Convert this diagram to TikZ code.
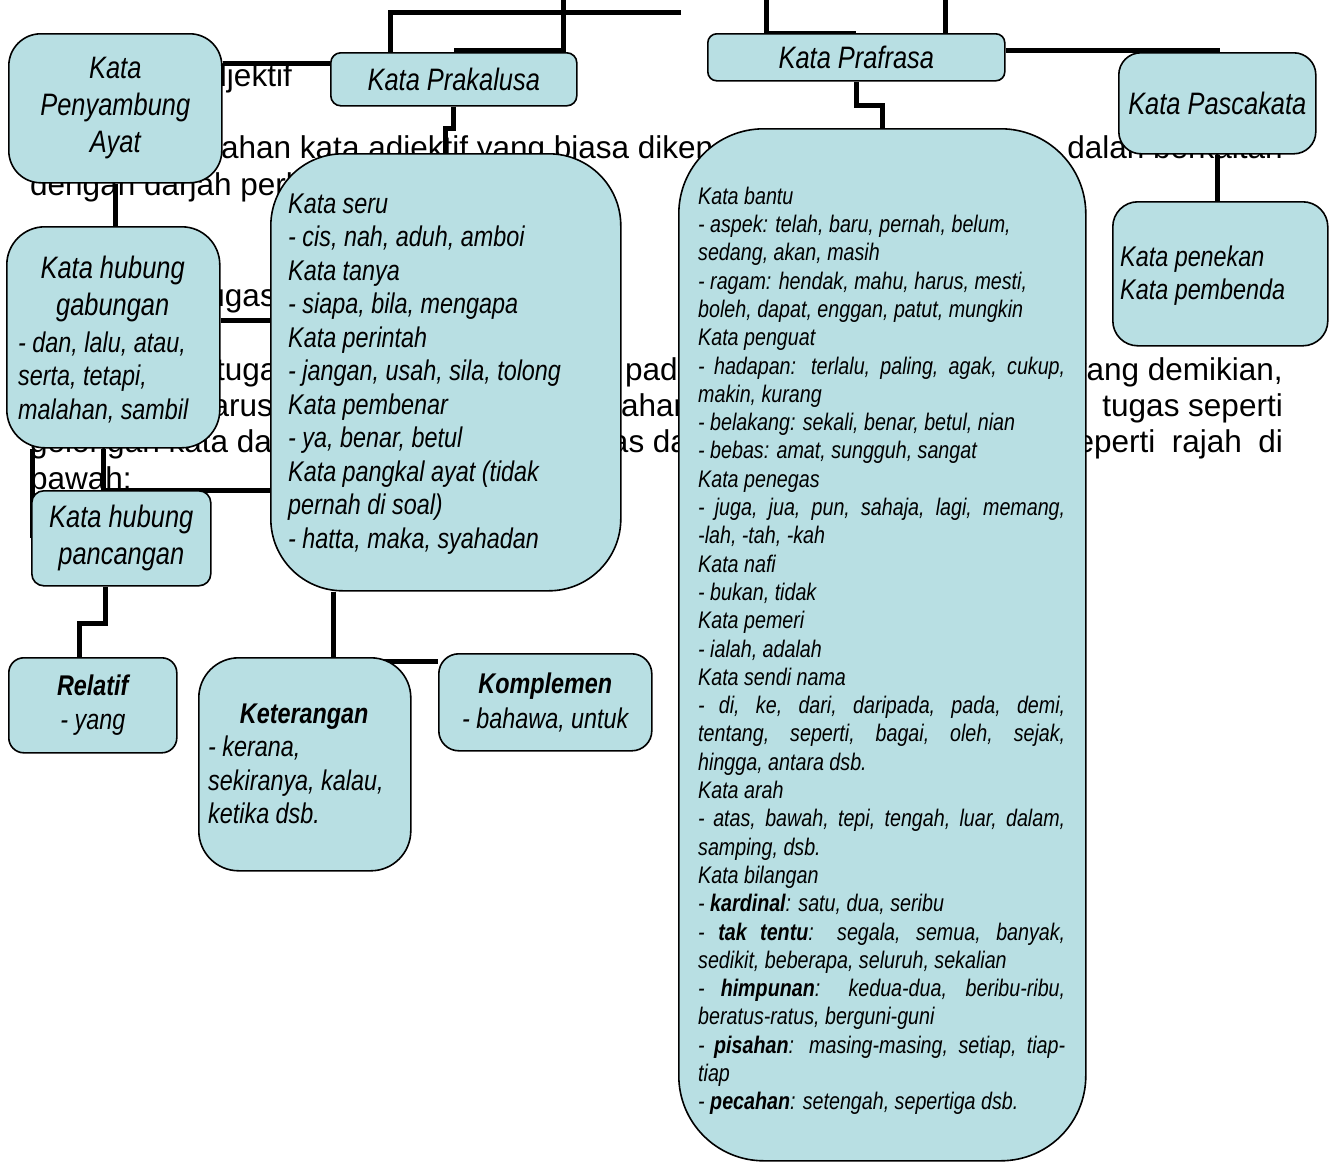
\documentclass[tikz,border=0pt]{standalone}
\usepackage{fontspec}
\setmainfont{Liberation Sans}
\newfontfamily\nfont[FakeStretch=0.82]{Liberation Sans}
\newcommand\fHead{\nfont\itshape\fontsize{31}{37}\selectfont}
\newcommand\fBody{\nfont\itshape\fontsize{28.5}{33.5}\selectfont}
\newcommand\fSmall{\nfont\itshape\fontsize{24}{28.3}\selectfont}
\newcommand\fBg{\fontsize{31.5}{36}\selectfont}
\newcommand\jl[1]{\makebox[367pt][s]{#1}}
\definecolor{boxfill}{HTML}{B8DFE3}
\pgfdeclarelayer{bgl}
\pgfsetlayers{bgl,main}
\tikzset{
  box/.style={draw=black, line width=1.6pt, fill=boxfill, inner sep=0pt, anchor=north west},
  conn/.style={line width=5pt, draw=black},
  bg/.style={font=\fBg, inner sep=0pt},
  txt/.style={inner sep=0pt, anchor=north west, align=left},
}
\begin{document}
\begin{tikzpicture}[x=1pt,y=-1pt]
\useasboundingbox (0,0) rectangle (1334,1162);
% ---------- boxes ----------
\node[box, minimum width=213pt, minimum height=149pt, rounded corners=32pt, font=\fHead, align=center] (peny) at (8,33) {Kata\\Penyambung\\Ayat};
\node[box, minimum width=246pt, minimum height=53pt, rounded corners=10pt, font=\fHead] (prak) at (330,52) {Kata Prakalusa};
\node[box, minimum width=297pt, minimum height=47pt, rounded corners=9pt, font=\fHead] (praf) at (707,33) {Kata Prafrasa};
\node[box, minimum width=197pt, minimum height=101pt, rounded corners=22pt, font=\fHead] (pasc) at (1118,52) {Kata Pascakata};
\node[box, minimum width=215pt, minimum height=144pt, rounded corners=25pt] (pen) at (1112,201) {};
\node[box, minimum width=213pt, minimum height=221pt, rounded corners=38pt] (gab) at (6,226) {};
\node[box, minimum width=350pt, minimum height=437pt, rounded corners=72pt] (bigL) at (270,153) {};
\node[box, minimum width=179pt, minimum height=95pt, rounded corners=12pt, font=\fHead, align=center] (panc) at (31,490) {Kata hubung\\pancangan};
\node[box, minimum width=168pt, minimum height=95pt, rounded corners=15pt, font=\fBody, align=center] (rel) at (8,657) {{\bfseries Relatif}\\- yang};
\node[box, minimum width=212pt, minimum height=213pt, rounded corners=40pt] (ket) at (198,657) {};
\node[box, minimum width=213pt, minimum height=97pt, rounded corners=20pt, font=\fBody, align=center] (komp) at (438,653) {{\bfseries Komplemen}\\[1pt]- bahawa, untuk};
\node[box, minimum width=407pt, minimum height=1032pt, rounded corners=85pt] (bigR) at (678,128) {};
% ---------- box texts ----------
\node[txt, font=\fBody] (tpen) at (1120,241) {\rule{0pt}{25pt}Kata penekan\\Kata pembenda};
\node[txt, font=\fBody] (tgab) at (18,253) {\rule{0pt}{25pt}\makebox[189pt][c]{\fHead Kata hubung}\\[4pt]\makebox[189pt][c]{\fHead gabungan}\\[3pt]- dan, lalu, atau,\\serta, tetapi,\\malahan, sambil};
\node[txt, font=\fBody] (tket) at (208,698) {\rule{0pt}{25pt}\makebox[192pt][c]{\bfseries Keterangan}\\- kerana,\\sekiranya, kalau,\\ketika dsb.};
\node[txt, font=\fBody, align=left] (tbigL) at (288,188) {\rule{0pt}{25pt}Kata seru\\- cis, nah, aduh, amboi\\Kata tanya\\- siapa, bila, mengapa\\Kata perintah\\- jangan, usah, sila, tolong\\Kata pembenar\\- ya, benar, betul\\Kata pangkal ayat (tidak\\pernah di soal)\\- hatta, maka, syahadan};
\node[txt, font=\fSmall] (tbigR) at (698,183) {\rule{0pt}{21pt}Kata bantu\\
- aspek: telah, baru, pernah, belum,\\
sedang, akan, masih\\
- ragam: hendak, mahu, harus, mesti,\\
boleh, dapat, enggan, patut, mungkin\\
Kata penguat\\
\jl{- hadapan: terlalu, paling, agak, cukup,}\\
makin, kurang\\
- belakang: sekali, benar, betul, nian\\
- bebas: amat, sungguh, sangat\\
Kata penegas\\
\jl{- juga, jua, pun, sahaja, lagi, memang,}\\
-lah, -tah, -kah\\
Kata nafi\\
- bukan, tidak\\
Kata pemeri\\
- ialah, adalah\\
Kata sendi nama\\
\jl{- di, ke, dari, daripada, pada, demi,}\\
\jl{tentang, seperti, bagai, oleh, sejak,}\\
hingga, antara dsb.\\
Kata arah\\
\jl{- atas, bawah, tepi, tengah, luar, dalam,}\\
samping, dsb.\\
Kata bilangan\\
- \textbf{kardinal}: satu, dua, seribu\\
\jl{- \textbf{tak tentu}: segala, semua, banyak,}\\
sedikit, beberapa, seluruh, sekalian\\
\jl{- \textbf{himpunan}: kedua-dua, beribu-ribu,}\\
beratus-ratus, berguni-guni\\
\jl{- \textbf{pisahan}: masing-masing, setiap, tiap-}\\
tiap\\
- \textbf{pecahan}: setengah, sepertiga dsb.};
% ---------- background layer ----------
\begin{pgfonlayer}{bgl}
\fill[white] (0,0) rectangle (1334,1162);
\node[bg, anchor=base east] (b1) at (292,86) {Kata Adjektif};
\node[bg, anchor=base west] (b2) at (221,158) {ahan kata adjektif yang biasa dikenali};
\node[bg, anchor=base east] (b3) at (1283,158) {dalah berkaitan};
\node[bg, anchor=base west] (b4) at (30,195) {dengan darjah perbandingan};
\node[bg, anchor=base east] (b5) at (276,306) {Kata tugas};
\node[bg, anchor=base west] (b6) at (216,380) {tugas ialah};
\node[bg, anchor=base west] (b7) at (625,380) {pada};
\node[bg, anchor=base east] (b8) at (1283,380) {yang demikian,};
\node[bg, anchor=base west] (b9) at (194,416) {harus};
\node[bg, anchor=base west] (b10) at (621,416) {ahar};
\node[bg, anchor=base east] (b11) at (1283,416) {tugas seperti};
\node[bg, anchor=base west] (b12) at (30,452) {golongan kata dalam};
\node[bg, anchor=base west] (b13) at (567,452) {tugas dalam};
\node[bg, anchor=base east] (b14) at (1283,452) {\makebox[222pt][s]{seperti rajah di}};
\node[bg, anchor=base west] (b15) at (30,489) {bawah:};
% connectors
\coordinate (tA) at (563,0);
\coordinate (tB) at (681,12);
\coordinate (tC) at (766,0);
\coordinate (tD) at (945,0);
\coordinate (j1) at ([yshift=-11pt]prak.north west);
\draw[conn] (j1) -- (j1 -| peny.east);
\draw[conn] (tA) |- ([yshift=2pt]prak.north);
\draw[conn] (tB) -| ([xshift=60pt]prak.north west);
\draw[conn] (prak.south) -- ++(0,22) -| (bigL.north);
\draw[conn] (tC) |- (praf.north);
\draw[conn] (tD) -- (tD |- praf.north);
\draw[conn] (praf.south) -- ++(0,24) -| (bigR.north);
\draw[conn] ([yshift=6.5pt]praf.east) -| (pasc.north);
\draw[conn] (pasc.south) -- (pasc.south |- pen.north);
\draw[conn] (peny.south) -- (peny.south |- gab.north);
\coordinate (j2) at ([yshift=16.5pt]gab.east);
\draw[conn] (j2) -- (j2 -| bigL.west);
\draw[conn] ([xshift=-9.5pt]gab.south) |- (bigL.west |- panc.north);
\coordinate (j3) at ([xshift=26pt]gab.south west);
\draw[conn] (j3) -- (j3 |- panc.west);
\draw[conn] ([xshift=-15.5pt]panc.south) -- ++(0,37) -| ([xshift=-13pt]rel.north);
\draw[conn] ([xshift=-112pt]bigL.south) |- ([yshift=-8.5pt]komp.north west);
\end{pgfonlayer}
\end{tikzpicture}
\end{document}
